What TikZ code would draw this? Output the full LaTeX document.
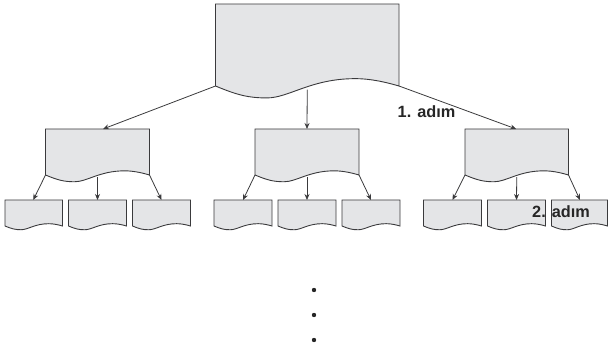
\documentclass[tikz,border=0pt]{standalone}
\usepackage{fontspec}
\setmainfont{Liberation Sans}
\usetikzlibrary{arrows.meta}
\definecolor{docfill}{HTML}{E4E5E7}
\definecolor{docline}{HTML}{3A3A3C}
\tikzset{
  docshape/.style={draw=docline,fill=docfill,line width=0.9pt,line join=miter},
  anchorbox/.style={inner sep=0pt,outer sep=0pt,minimum width=#1,minimum height=1pt,anchor=north west},
  conn/.style={draw=docline,line width=0.8pt,-{Stealth[length=6pt,width=5pt]}},
  steplabel/.style={font=\bfseries\fontsize{16.3}{18}\selectfont,text=black!85,inner sep=0pt,anchor=base west},
  dotmark/.style={circle,fill=black!85,inner sep=0pt,minimum size=4.4pt}
}
% name, left x, top y, width, left-edge height, wave scale
\newcommand{\docbox}[6]{%
  \draw[docshape] (#2,#3) -- (#2+#4,#3) -- (#2+#4,#3+#5)
    .. controls (#2+.93*#4,#3+#5-.02*#6) and (#2+.85*#4,#3+#5-.04*#6) .. (#2+.76*#4,#3+#5-.04*#6)
    .. controls (#2+.52*#4,#3+#5-.04*#6) and (#2+.40*#4,#3+#5+.065*#6) .. (#2+.28*#4,#3+#5+.065*#6)
    .. controls (#2+.18*#4,#3+#5+.065*#6) and (#2+.12*#4,#3+#5+.05*#6) .. (#2,#3+#5) -- cycle;
  \node[anchorbox=#4 pt] (#1) at (#2,#3) {};
  \coordinate (#1-l) at (#2,#3+#5);
  \coordinate (#1-c) at (#2+.5*#4,#3+#5+.02*#6);
  \coordinate (#1-r) at (#2+#4,#3+#5);
}
\begin{document}
\begin{tikzpicture}[x=1pt,y=-1pt]
\useasboundingbox (0,0) rectangle (608,352);
\docbox{top}{215.5}{4}{183.5}{82}{183.5}
\docbox{ma}{45.5}{129}{104}{46}{104}
\docbox{mb}{255}{129}{104}{46}{104}
\docbox{mc}{465}{129}{103.5}{46}{104}
\docbox{sa}{5}{200}{57.5}{26}{57.5}
\docbox{sb}{68.5}{200}{58}{26}{58}
\docbox{sc}{132.5}{200}{58}{26}{58}
\docbox{sd}{214}{200}{58}{26}{58}
\docbox{se}{278}{200}{58}{26}{58}
\docbox{sf}{342}{200}{58}{26}{58}
\docbox{sg}{423.5}{200}{58}{26}{58}
\docbox{sh}{487.5}{200}{58}{26}{58}
\docbox{si}{551.5}{200}{56}{26}{58}
\draw[conn] (top-l) -- ([xshift=5.5pt]ma.north);
\draw[conn] (top-c) -- (mb.north);
\draw[conn] (top-r) -- ([xshift=-.5pt]mc.north);
\draw[conn] (ma-l) -- ([xshift=-.5pt]sa.north);
\draw[conn] (ma-c) -- (sb.north);
\draw[conn] (ma-r) -- (sc.north);
\draw[conn] (mb-l) -- (sd.north);
\draw[conn] (mb-c) -- (se.north);
\draw[conn] (mb-r) -- (sf.north);
\draw[conn] (mc-l) -- (sg.north);
\draw[conn] (mc-c) -- (sh.north);
\draw[conn] (mc-r) -- ([xshift=.5pt]si.north);
\node[steplabel] (la) at (397.5,118) {1. adım};
\node[steplabel] (lb) at (532,218) {2. adım};
\node[dotmark] (da) at (314,290) {};
\node[dotmark] (db) at (314,315) {};
\node[dotmark] (dc) at (314,340) {};
\end{tikzpicture}
\end{document}
